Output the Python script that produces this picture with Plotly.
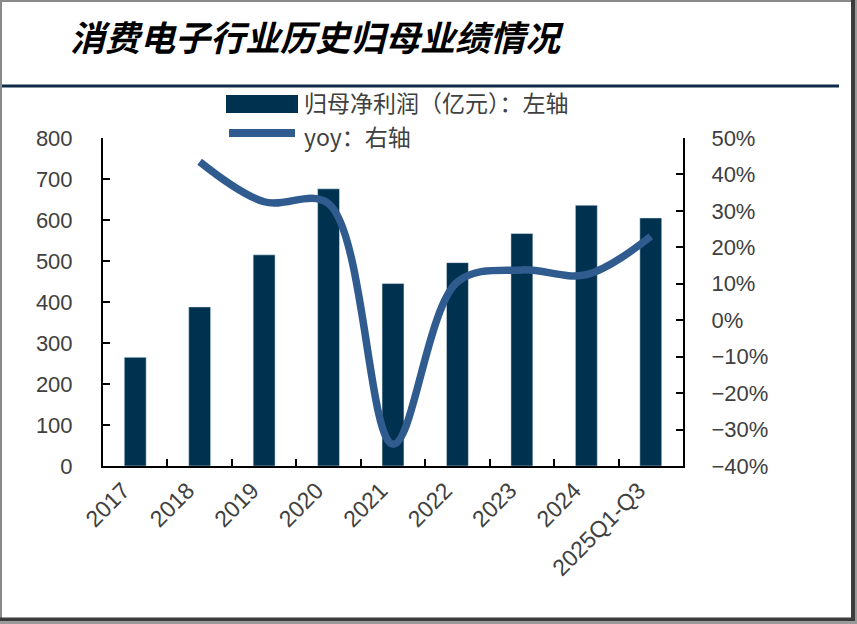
import plotly.graph_objects as go

categories = ["2017", "2018", "2019", "2020", "2021", "2022", "2023", "2024", "2025Q1-Q3"]
net_profit = [265, 388, 515, 676, 445, 496, 567, 636, 605]
yoy_cats = ["2018", "2019", "2020", "2021", "2022", "2023", "2024", "2025Q1-Q3"]
yoy_pct = [43.5, 32.5, 32.0, -34.0, 10.5, 13.8, 12.5, 23.0]

title_text = "消费电子行业历史归母业绩情况"
legend_bar = "归母净利润（亿元）：左轴"
legend_line = "yoy：右轴"

W, H = 857, 624
L, R, T, B = 103, 174, 138, 158
PW, PH = W - L - R, H - T - B

def px(x):
    return (x - L) / PW

def py(y):
    return (H - B - y) / PH

BAR_C = "#00324F"
LINE_C = "#2F5B8F"
TXT_C = "#404040"
FONT = "Liberation Sans, Arial, Noto Sans CJK SC, sans-serif"
CJK = "Noto Sans CJK SC, sans-serif"

fig = go.Figure()
fig.add_trace(go.Bar(x=categories, y=net_profit, marker_color=BAR_C, width=0.34,
                     name=legend_bar, showlegend=False))
fig.add_trace(go.Scatter(x=yoy_cats, y=yoy_pct, yaxis="y2", mode="lines",
                         line=dict(color=LINE_C, width=7.5, shape="spline", smoothing=1.0),
                         name=legend_line, showlegend=False))

shapes = []
# header separator line
shapes.append(dict(type="line", xref="paper", yref="paper", x0=px(0), x1=px(839),
                   y0=py(86), y1=py(86), line=dict(color="#0E2B47", width=3)))
# outer frame
shapes.append(dict(type="line", xref="paper", yref="paper", x0=px(1), x1=px(1),
                   y0=py(0), y1=py(619), line=dict(color="#8A8A8A", width=2)))
shapes.append(dict(type="line", xref="paper", yref="paper", x0=px(0), x1=px(853),
                   y0=py(1), y1=py(1), line=dict(color="#8A8A8A", width=2)))
shapes.append(dict(type="line", xref="paper", yref="paper", x0=px(853), x1=px(853),
                   y0=py(0), y1=py(621), line=dict(color="#3C3C3C", width=4)))
shapes.append(dict(type="line", xref="paper", yref="paper", x0=px(0), x1=px(855),
                   y0=py(619.5), y1=py(619.5), line=dict(color="#3C3C3C", width=4)))
shapes.append(dict(type="line", xref="paper", yref="paper", x0=px(0), x1=px(857),
                   y0=py(622.5), y1=py(622.5), line=dict(color="#9A9A9A", width=3)))
shapes.append(dict(type="line", xref="paper", yref="paper", x0=px(856), x1=px(856),
                   y0=py(0), y1=py(624), line=dict(color="#9A9A9A", width=2)))
# legend symbols
shapes.append(dict(type="rect", xref="paper", yref="paper", x0=px(226), x1=px(298),
                   y0=py(95), y1=py(113), fillcolor=BAR_C, line=dict(width=0)))
shapes.append(dict(type="line", xref="paper", yref="paper", x0=px(229), x1=px(295),
                   y0=py(133), y1=py(133), line=dict(color=LINE_C, width=8)))

annotations = [
    dict(text=title_text, xref="paper", yref="paper", x=px(68), y=py(36),
         xanchor="left", yanchor="middle", showarrow=False,
         font=dict(family=CJK, size=35, color="#000000", style="italic", weight="bold")),
    dict(text=legend_bar, xref="paper", yref="paper", x=px(303), y=py(102),
         xanchor="left", yanchor="middle", showarrow=False, borderpad=0,
         font=dict(family=CJK, size=23, color=TXT_C)),
    dict(text=legend_line, xref="paper", yref="paper", x=px(303), y=py(136),
         xanchor="left", yanchor="middle", showarrow=False, borderpad=0,
         font=dict(family=CJK, size=23, color=TXT_C)),
]

fig.update_layout(
    width=W, height=H,
    margin=dict(l=L, r=R, t=T, b=B, autoexpand=False),
    paper_bgcolor="white", plot_bgcolor="white",
    showlegend=False,
    font=dict(family=FONT, color=TXT_C, size=22),
    xaxis=dict(type="category", tickson="boundaries", ticks="inside", ticklen=7,
               tickwidth=2, tickcolor="black", showline=True, linecolor="black",
               linewidth=2, tickangle=-45, tickfont=dict(size=23, color=TXT_C),
               showgrid=False, range=[-0.5, 8.5], ticklabelshift=-12),
    yaxis=dict(range=[0, 800], dtick=100, ticks="inside", ticklen=7, tickwidth=2,
               tickcolor="black", showline=True, linecolor="black", linewidth=2,
               showgrid=False, zeroline=False, tickfont=dict(size=22, color=TXT_C),
               ticklabelstandoff=24),
    yaxis2=dict(range=[-40, 50], dtick=10, ticksuffix="%", overlaying="y", side="right",
                ticks="inside", ticklen=7, tickwidth=2, tickcolor="black",
                showline=True, linecolor="black", linewidth=2, showgrid=False,
                zeroline=False, tickfont=dict(size=22, color=TXT_C),
                ticklabelstandoff=22),
    shapes=shapes,
    annotations=annotations,
)

fig.write_html("out.html", config={"displayModeBar": False},
               post_script="document.body.style.margin='0';document.body.style.overflow='hidden';")
